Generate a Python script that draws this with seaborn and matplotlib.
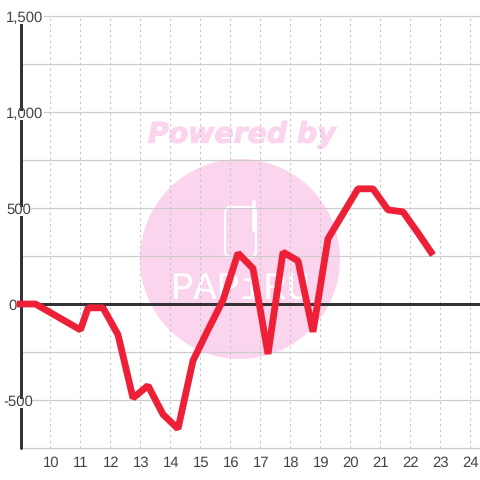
import matplotlib
matplotlib.use("Agg")
import matplotlib.pyplot as plt
import matplotlib.patheffects as pe
from matplotlib.lines import Line2D
from matplotlib.patches import Circle, FancyBboxPatch, Rectangle
from matplotlib.transforms import blended_transform_factory
import pandas as pd
import seaborn as sns

hours = [8.88, 9.5, 11, 11.25, 11.75, 12.25, 12.75, 13.25, 13.75, 14.25, 14.75, 15.25,
         15.75, 16.25, 16.75, 17.25, 17.75, 18.25, 18.75, 19.25, 19.75, 20.25, 20.75,
         21.25, 21.75, 22.25, 22.75]
values = [0, 0, -135, -20, -20, -160, -490, -425, -575, -650, -295, -135,
          20, 265, 185, -260, 270, 225, -145, 340, 470, 600, 600,
          490, 480, 370, 255]
x_ticks = list(range(10, 25))
y_major = [1500, 1000, 500, 0, -500]
y_labels = ["1,500", "1,000", "500", "0", "-500"]
y_label_left = [6, 6, 6, 8, 3]
y_label_width = [38, 38, 25, 9, 28]
y_grid = [1500, 1250, 1000, 750, 500, 250, 0, -250, -500, -750]

RED = "#ee2037"
DARK = "#333333"
GRID = "#cccccc"
PINK = "#fbd5ed"
TEXT = "#444444"
SIZE = 480.0

sns.set_style("white")
plt.rcParams["font.family"] = ["Liberation Sans", "DejaVu Sans"]
plt.rcParams["text.hinting"] = "no_hinting"

fig = plt.figure(figsize=(4.8, 4.8), dpi=100)
ax = fig.add_axes([20.5 / SIZE, (SIZE - 448) / SIZE, (SIZE - 20.5) / SIZE, 432 / SIZE])
ax.patch.set_alpha(0)
ax.set_xlim(9, 24.317)
ax.set_ylim(-750, 1500)
for s in ax.spines.values():
    s.set_visible(False)


def px(x, y):
    return x / SIZE, 1 - y / SIZE


# watermark sits under the axes
fig.add_artist(Circle(px(240, 259), 100 / SIZE, transform=fig.transFigure, fc=PINK, ec="none", zorder=-2))
fig.text(*px(242, 135), "Powered by", color=PINK, fontsize=20.4, fontweight="bold", fontstyle="italic",
         family="DejaVu Sans", ha="center", va="center", zorder=-2,
         path_effects=[pe.withStroke(linewidth=0.8, foreground=PINK)])
fig.add_artist(FancyBboxPatch(px(225, 257), 31 / SIZE, 50 / SIZE, boxstyle="round,pad=0,rounding_size=0.012",
                              transform=fig.transFigure, fc="none", ec="white", lw=1.5, zorder=-1))
fig.add_artist(Line2D([254.5 / SIZE, 254.5 / SIZE], [1 - 230 / SIZE, 1 - 202 / SIZE], transform=fig.transFigure,
                      color="white", lw=2.6, solid_capstyle="round", zorder=-1))
fig.text(*px(241, 289), "PAPiRU", color="white", fontsize=28, family="Liberation Mono",
         ha="center", va="center", zorder=-1)

ax.hlines(y_grid, 9, 24.317, color=GRID, lw=0.85, zorder=1, clip_on=False)
ax.vlines(x_ticks, -750, 1500, color="#c4c4c4", lw=0.8, linestyles=(0, (2, 3)), zorder=1)
ax.axvline(9, color=DARK, lw=2.16, zorder=2, clip_on=False)
ax.axhline(0, color=DARK, lw=2.16, zorder=2)

df = pd.DataFrame({"hour": hours, "value": values})
sns.lineplot(data=df, x="hour", y="value", color=RED, lw=4.9, ax=ax, zorder=4, errorbar=None,
             solid_joinstyle="bevel", solid_capstyle="butt", clip_on=False)
ax.set_xlabel("")
ax.set_ylabel("")
ax.set_xticks([])
ax.set_yticks([])

for h in x_ticks:
    ax.annotate(str(h), (h, -750), xytext=(0.5, -18.7), textcoords="offset pixels", ha="center", va="baseline",
                color=TEXT, fontsize=10.7, annotation_clip=False, zorder=6)

# y labels sit on the axis, each with a white strip below the grid line
trans = blended_transform_factory(fig.dpi_scale_trans, ax.transData)
for val, lab, left, w in zip(y_major, y_labels, y_label_left, y_label_width):
    left_in = left / 100
    ax.add_patch(Rectangle((left_in, val - 42), w / 100, 46, transform=trans, fc="white", ec="none",
                           zorder=3, clip_on=False))
    ax.annotate(lab, (left_in, val), xycoords=trans, xytext=(0, -5.8), textcoords="offset pixels",
                ha="left", va="baseline", color=TEXT, fontsize=10.7, annotation_clip=False, zorder=6)

fig.savefig("out.png", dpi=100)
